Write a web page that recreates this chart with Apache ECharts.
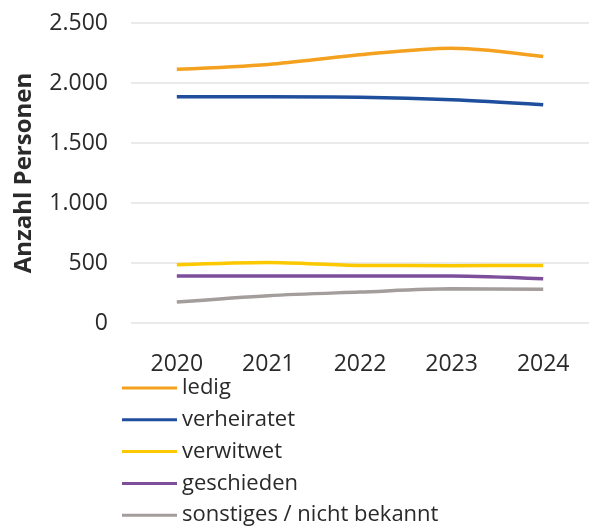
<!DOCTYPE html>
<html>
<head>
<meta charset="utf-8">
<script src="https://cdn.jsdelivr.net/npm/echarts@6/dist/echarts.min.js"></script>
<style>
  html, body { margin: 0; padding: 0; background: #fff; }
  #main { width: 589px; height: 530px; }
</style>
</head>
<body>
<div id="main"></div>
<script>
// Jahre und Werte
const years = ['2020', '2021', '2022', '2023', '2024'];
const ledig = [2115, 2155, 2235, 2290, 2220];
const verheiratet = [1886, 1886, 1882, 1860, 1818];
const verwitwet = [485, 505, 480, 478, 480];
const geschieden = [392, 392, 392, 392, 368];
const sonstiges = [175, 228, 258, 285, 282];

const names = ['ledig', 'verheiratet', 'verwitwet', 'geschieden', 'sonstiges / nicht bekannt'];
const colors = ['#f3a11e', '#1f4f9c', '#fcc900', '#7d4f9b', '#a39d9c'];
const values = [ledig, verheiratet, verwitwet, geschieden, sonstiges];

const chart = echarts.init(document.getElementById('main'));

const fmt = v => String(v).replace(/\B(?=(\d{3})+(?!\d))/g, '.');

const option = {
  animation: false,
  color: colors,
  grid: { left: 131, right: -4, top: 23, bottom: 207, containLabel: false },
  legend: {
    orient: 'vertical',
    left: 122,
    top: 376,
    height: 300,
    padding: 0,
    icon: 'rect',
    itemWidth: 55,
    itemHeight: 3,
    itemGap: 7.8,
    textStyle: { fontFamily: 'Open Sans', fontSize: 22, color: '#2a2a2a', lineHeight: 24 },
    data: names
  },
  xAxis: {
    type: 'category',
    data: years,
    boundaryGap: true,
    axisLine: { show: false },
    axisTick: { show: false },
    axisLabel: { margin: 30, fontFamily: 'Open Sans', fontSize: 23, color: '#2a2a2a' }
  },
  yAxis: {
    type: 'value',
    min: 0,
    max: 2500,
    interval: 500,
    name: 'Anzahl Personen',
    nameLocation: 'middle',
    nameGap: 95,
    nameTextStyle: { fontFamily: 'Open Sans', fontSize: 24, fontWeight: 'bold', color: '#2a2a2a' },
    axisLabel: { margin: 23, fontFamily: 'Open Sans', fontSize: 23, color: '#2a2a2a', formatter: fmt },
    splitLine: { lineStyle: { color: '#e3e3e3', width: 1.5 } }
  },
  series: names.map((n, i) => ({
    name: n,
    type: 'line',
    data: values[i],
    smooth: 0.3,
    symbol: 'none',
    lineStyle: { width: 3.5 }
  }))
};

chart.setOption(option);
</script>
</body>
</html>
